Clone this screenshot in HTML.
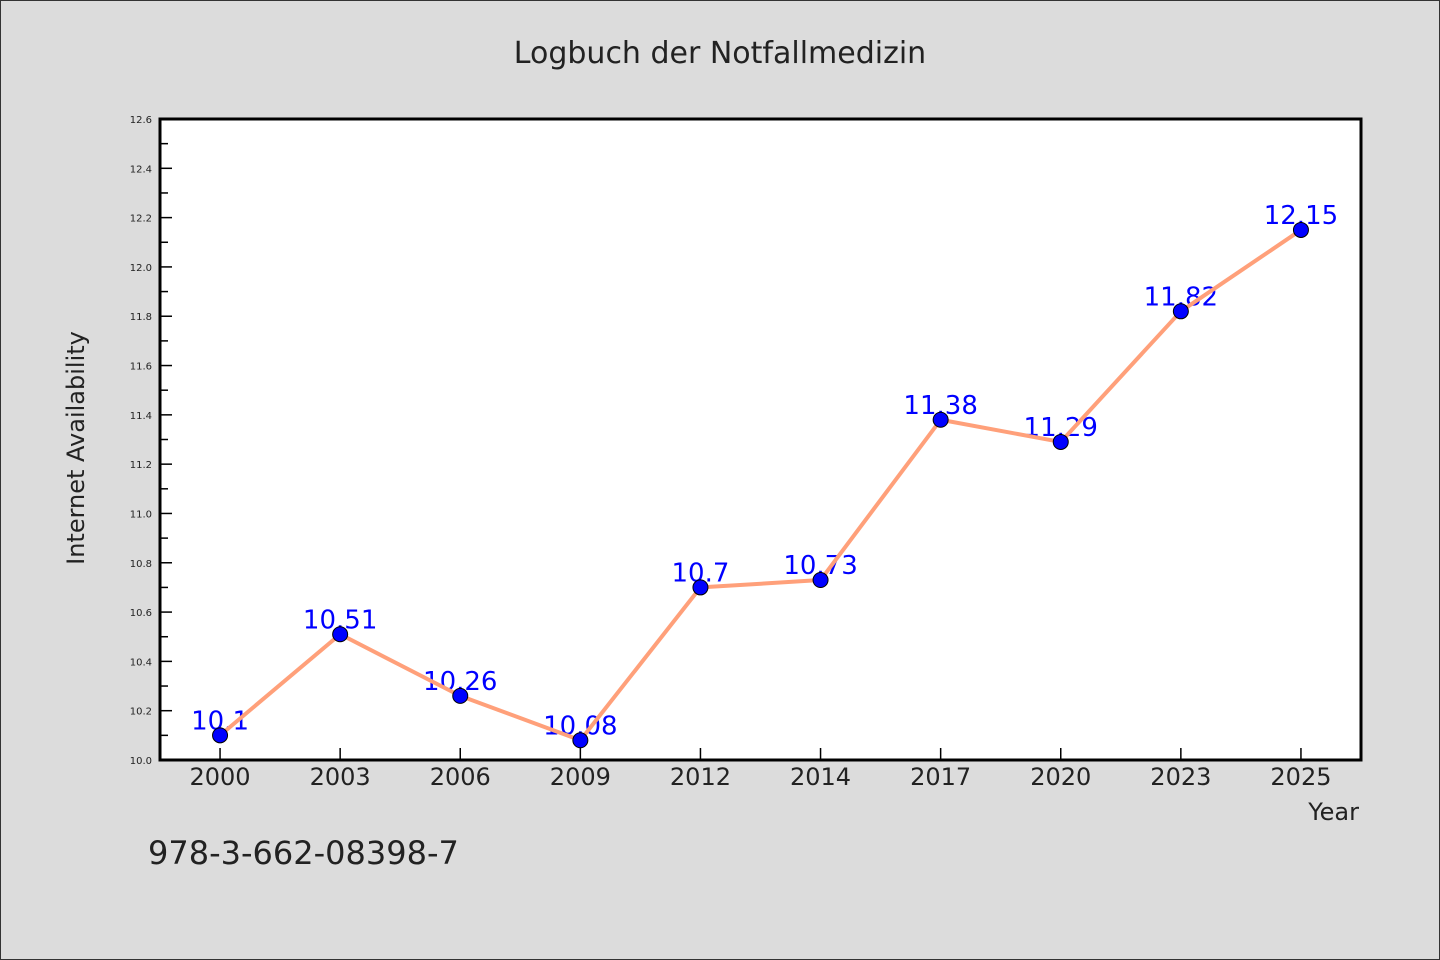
<!DOCTYPE html>
<html><head><meta charset="utf-8"><style>
html,body{margin:0;padding:0;background:#dcdcdc}
svg{display:block}
text{font-family:"WenQuanYi Zen Hei","DejaVu Sans",sans-serif}
</style></head><body>
<svg id="chart" width="1440" height="960" viewBox="0 0 1440 960">
<rect x="0.5" y="0.5" width="1439" height="959" fill="#dcdcdc" stroke="#333"/>
<text x="720" y="63" text-anchor="middle" font-size="30" fill="#222">Logbuch der Notfallmedizin</text>
<rect x="160" y="119" width="1201" height="641" fill="#fff"/>
<g id="grid"></g>
<g id="series"></g>
<rect x="160" y="119" width="1201" height="641" fill="none" stroke="#000" stroke-width="3"/>
<text transform="translate(84,448) rotate(-90)" text-anchor="middle" font-size="24" fill="#222">Internet Availability</text>
<text x="1359" y="820" text-anchor="end" font-size="24" fill="#222">Year</text>
<text x="148" y="864" font-size="32" fill="#222">978-3-662-08398-7</text>
</svg>
<script>
const categories=["2000","2003","2006","2009","2012","2014","2017","2020","2023","2025"];
const values=[10.1,10.51,10.26,10.08,10.7,10.73,11.38,11.29,11.82,12.15];
const valueLabels=["10.1","10.51","10.26","10.08","10.7","10.73","11.38","11.29","11.82","12.15"];
const yTicks=[10.0,10.2,10.4,10.6,10.8,11.0,11.2,11.4,11.6,11.8,12.0,12.2,12.4,12.6];
const yMin=10.0,yMax=12.6;
const L=160,R=1361,T=119,B=760;
const NS="http://www.w3.org/2000/svg";
const bw=(R-L)/categories.length;
function x(i){return L+bw*(i+0.5);}
function y(v){return B-(v-yMin)/(yMax-yMin)*(B-T);}
function mk(t,a){const e=document.createElementNS(NS,t);for(const k in a)e.setAttribute(k,a[k]);return e;}
const grid=document.getElementById('grid'),ser=document.getElementById('series');
yTicks.forEach((v,i)=>{
 const t=mk('line',{x1:L,x2:L+12,y1:y(v),y2:y(v),stroke:'#000','stroke-width':1.5});
 
 
 grid.appendChild(t);
 const lb=mk('text',{x:152,y:y(v)+4,'text-anchor':'end','font-size':10,fill:'#222'});
 lb.textContent=v.toFixed(1);
 
 
 grid.appendChild(lb);
 if(i<yTicks.length-1){
  const m=(v+yTicks[i+1])/2;
  const mt=mk('line',{x1:L,x2:L+8,y1:y(m),y2:y(m),stroke:'#000','stroke-width':1.5});
  
  
  grid.appendChild(mt);
 }
});
categories.forEach((c,i)=>{
 const t=mk('line',{x1:x(i),x2:x(i),y1:B,y2:B-12,stroke:'#000','stroke-width':1.5});
 
 
 grid.appendChild(t);
 const lb=mk('text',{x:x(i),y:785,'text-anchor':'middle','font-size':24,fill:'#222'});
 lb.textContent=c;
 
 
 grid.appendChild(lb);
});
values.forEach((v,i)=>{
 const lb=mk('text',{x:x(i),y:y(v)-6,'text-anchor':'middle','font-size':26,fill:'#0000ff'});
 lb.textContent=valueLabels[i];
 
 
 ser.appendChild(lb);
});
const pl=mk('polyline',{points:values.map((v,i)=>x(i)+','+y(v)).join(' '),fill:'none',stroke:'#ffa07a','stroke-width':4,'stroke-linejoin':'round'});


ser.appendChild(pl);
values.forEach((v,i)=>{
 const c=mk('circle',{cx:x(i),cy:y(v),r:7.5,fill:'#0000ff',stroke:'#000','stroke-width':1});
 
 
 ser.appendChild(c);
});
</script>
</body></html>
